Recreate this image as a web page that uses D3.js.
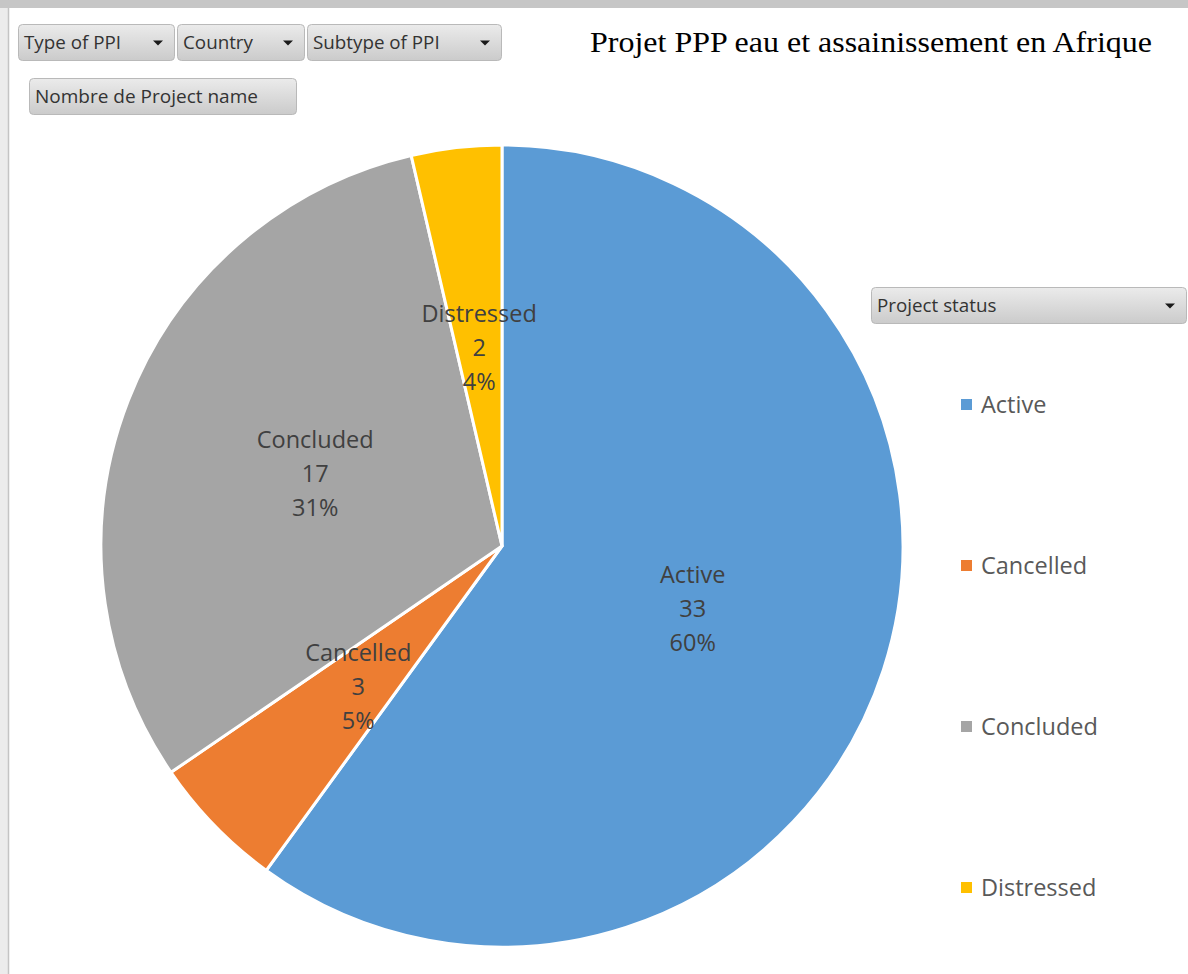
<!DOCTYPE html>
<html>
<head>
<meta charset="utf-8">
<script src="https://cdn.jsdelivr.net/npm/d3@7"></script>
<style>
  body { margin: 0; background: #fff; }
  svg { display: block; }
</style>
</head>
<body>
<div id="chart"></div>
<script>
const WIDTH = 1188;
const HEIGHT = 974;

const statuses = ['Active', 'Cancelled', 'Concluded', 'Distressed'];
const counts = [33, 3, 17, 2];
const colors = ['#5b9bd5', '#ed7d31', '#a5a5a5', '#ffc000'];
const filterFields = ['Type of PPI', 'Country', 'Subtype of PPI'];
const valueField = 'Nombre de Project name';
const legendField = 'Project status';
const title = 'Projet PPP eau et assainissement en Afrique';

const UI_FONT = '"Open Sans", "Noto Sans", sans-serif';

let svg = d3.select('#chart').append('svg')
  .attr('width', WIDTH)
  .attr('height', HEIGHT);

let defs = svg.append('defs');
let grad = defs.append('linearGradient')
  .attr('id', 'btn-grad')
  .attr('x1', 0).attr('y1', 0).attr('x2', 0).attr('y2', 1);
grad.append('stop').attr('offset', '0%').attr('stop-color', '#ebebeb');
grad.append('stop').attr('offset', '100%').attr('stop-color', '#cbcbcb');

// window frame
svg.append('rect').attr('x', 0).attr('y', 0).attr('width', WIDTH).attr('height', 8).attr('fill', '#c6c6c6');
svg.append('rect').attr('x', 0).attr('y', 8).attr('width', 8).attr('height', HEIGHT).attr('fill', '#ececec');
svg.append('line').attr('x1', 8.5).attr('x2', 8.5).attr('y1', 8).attr('y2', HEIGHT)
  .attr('stroke', '#c4c4c4').attr('stroke-width', 1.5);

// field buttons
let drawButton = (x, y, w, h, label, arrow, fs) => {
  let g = svg.append('g').attr('transform', `translate(${x},${y})`);
  g.append('rect')
    .attr('x', 0.5).attr('y', 0.5)
    .attr('width', w - 1).attr('height', h - 1)
    .attr('rx', 4)
    .attr('fill', 'url(#btn-grad)')
    .attr('stroke', '#b9b9b9');
  g.append('text')
    .attr('x', 6)
    .attr('y', h / 2 + 6.5)
    .attr('font-family', UI_FONT)
    .attr('font-size', fs)
    .attr('fill', '#333')
    .text(label);
  if (arrow) {
    let ax = w - 17;
    let ay = h / 2 - 2;
    g.append('path')
      .attr('d', `M${ax - 5},${ay} L${ax + 5},${ay} L${ax},${ay + 5} Z`)
      .attr('fill', '#1a1a1a');
  }
};

let btnX = d3.scaleOrdinal()
  .domain(filterFields)
  .range([18, 177, 307]);
let btnW = [157, 128, 195];
filterFields.forEach((f, i) => drawButton(btnX(f), 24, btnW[i], 37, f, true, 18.8));
drawButton(29, 78, 268, 37, valueField, false, 19);
drawButton(871, 287, 316, 37, legendField, true, 18.8);

// title
svg.append('text')
  .attr('x', 590)
  .attr('y', 52)
  .attr('font-family', '"Liberation Serif", "Times New Roman", serif')
  .attr('font-size', 29)
  .attr('textLength', 562)
  .attr('lengthAdjust', 'spacingAndGlyphs')
  .attr('fill', '#000')
  .text(title);

// pie
const cx = 502;
const cy = 546;
const radius = 401;

let data = statuses.map((s, i) => ({ status: s, count: counts[i] }));
let total = d3.sum(counts);
let color = d3.scaleOrdinal().domain(statuses).range(colors);

let pie = d3.pie().sort(null).value((d) => d.count);
let arc = d3.arc().innerRadius(0).outerRadius(radius);
let labelArc = d3.arc().innerRadius(radius * 0.5).outerRadius(radius * 0.5);
let arcs = pie(data);

let g = svg.append('g').attr('transform', `translate(${cx},${cy})`);

g.selectAll('path.slice')
  .data(arcs)
  .enter().append('path')
  .attr('class', 'slice')
  .attr('d', arc)
  .attr('fill', (d) => color(d.data.status))
  .attr('stroke', '#fff')
  .attr('stroke-width', 3)
  .attr('stroke-linejoin', 'round');

let labels = g.selectAll('text.label')
  .data(arcs)
  .enter().append('text')
  .attr('class', 'label')
  .attr('transform', (d) => {
    let c = labelArc.centroid(d);
    return `translate(${c[0]},${c[1]})`;
  })
  .attr('text-anchor', 'middle')
  .attr('font-family', UI_FONT)
  .attr('font-size', 23.5)
  .attr('fill', '#404040');

labels.each(function (d) {
  let lines = [
    d.data.status,
    d.data.count,
    Math.round(d.data.count / total * 100) + '%',
  ];
  let t = d3.select(this);
  lines.forEach((ln, i) => {
    t.append('tspan')
      .attr('x', 0)
      .attr('y', (i - 1) * 34 + 9)
      .text(ln);
  });
});

// legend
let legendY = d3.scalePoint()
  .domain(statuses)
  .range([404, 887]);

let legend = svg.append('g').selectAll('g')
  .data(statuses)
  .enter().append('g')
  .attr('transform', (d) => `translate(961,${legendY(d)})`);

legend.append('rect')
  .attr('x', 0).attr('y', -5)
  .attr('width', 11).attr('height', 11)
  .attr('fill', (d) => color(d));

legend.append('text')
  .attr('x', 20)
  .attr('y', 9)
  .attr('font-family', UI_FONT)
  .attr('font-size', 23.5)
  .attr('fill', '#595959')
  .text((d) => d);
</script>
</body>
</html>
